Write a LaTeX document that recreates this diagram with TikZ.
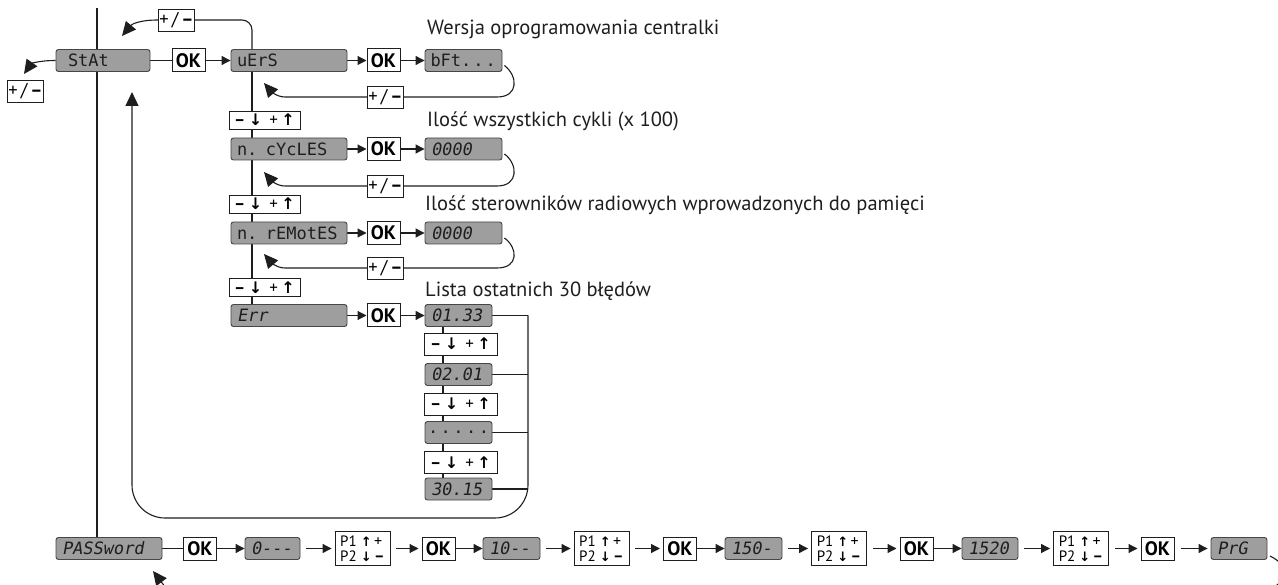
\documentclass[tikz,border=0pt]{standalone}
\usepackage{fontspec}
\setmainfont{PT Sans}
\newfontfamily\arwfont{DejaVu Sans}
\newfontfamily\segupfont{DejaVu Sans Mono}
\newfontfamily\segitfont{DejaVu Sans Mono}[FakeSlant=0.18]
\usetikzlibrary{arrows.meta,backgrounds}
\definecolor{lcd}{RGB}{158,158,158}
\definecolor{lcdline}{RGB}{70,70,70}
\definecolor{ink}{RGB}{30,30,30}
\newcommand\dup[1]{\mbox{\segupfont #1}}
\newcommand\dit[1]{\mbox{\segitfont #1}}
\newcommand\pmtxt{+\,/\,\textbf{–}}
\newcommand\udarw[1]{{\arwfont\bfseries\fontsize{16}{16}\selectfont #1}}
\newcommand\udtxt{\textbf{–}\hspace{3.5pt}\udarw{↓}\hspace{7pt}+\hspace{3.5pt}\udarw{↑}}
\newcommand\parw[1]{{\arwfont\bfseries\fontsize{13}{15.5}\selectfont #1}}
\newcommand\ptxt{P1\hspace{4pt}\parw{↑}\hspace{2.5pt}{\fontsize{16}{15.5}\selectfont +}\\P2\hspace{4pt}\parw{↓}\hspace{2.5pt}{\fontsize{16}{15.5}\selectfont\textbf{–}}}
\tikzset{
 conn/.style={draw=ink,line width=1.1pt},
 tip/.style={-{Triangle[length=9pt,width=9pt]}},
 bigtip/.style={-{Triangle[length=14pt,width=13pt]}},
 disp/.style={draw=lcdline,fill=lcd,line width=0.9pt,rounded corners=2.5pt,minimum height=22pt,inner xsep=6pt,inner ysep=0pt,text width=#1,align=left,text=ink,font=\fontsize{17}{18}\selectfont},
 okbox/.style={draw=ink,fill=white,line width=1pt,minimum width=33pt,minimum height=23pt,inner sep=0pt,font=\fontsize{19.5}{20}\selectfont\bfseries},
 pmbox/.style={draw=ink,fill=white,line width=0.9pt,minimum width=36pt,minimum height=22pt,inner sep=0pt,font=\fontsize{18.5}{18}\selectfont},
 udbox/.style={draw=ink,fill=white,line width=0.9pt,minimum width=71pt,minimum height=18pt,inner sep=0pt,font=\fontsize{17}{17}\selectfont},
 udboxb/.style={udbox,minimum width=73pt,minimum height=22pt},
 pbox/.style={draw=ink,fill=white,line width=0.9pt,minimum width=55pt,minimum height=34pt,inner xsep=3pt,inner ysep=0pt,align=left,font=\fontsize{15}{15.5}\selectfont},
 lbl/.style={anchor=base west,inner sep=0pt,text=ink,font=\fontsize{20.5}{22}\selectfont},
 gapped/.style={shorten <=6pt,shorten >=3pt},
}
\begin{document}
\begin{tikzpicture}[x=1pt,y=-1pt]
\useasboundingbox (0,0) rectangle (1278,585);
\clip (0,0) rectangle (1278,585);
% coordinates
\coordinate (topA) at (97,8);
\coordinate (colB) at (252,0);
\coordinate (colE) at (443,0);
\coordinate (bus) at (528,0);
\coordinate (ret) at (132,0);
\coordinate (bot) at (0,518);
\coordinate (retTip) at (132,92);
\coordinate (topTip) at (122,36);
\coordinate (statTip) at (24,74);
% top row
\node[disp=82pt] (stat) at (103,60.5) {\hspace{6pt}\dup{StAt}};
\node[okbox] (ok1) at (188.5,60.5) {OK};
\node[disp=104pt] (vers) at (289,60.5) {\dup{uErS}};
\node[okbox] (ok2) at (383.5,60.5) {OK};
\node[disp=66pt,inner xsep=5.5pt] (bft) at (463.5,60.5) {\dup{bFt.\hspace{2pt}.\hspace{2pt}.}};
\node[pmbox] (tpm) at (176.5,20) {\pmtxt};
\node[pmbox] (lpm) at (25.5,91) {\pmtxt};
\node[pmbox] (pm1) at (385.5,97) {\pmtxt};
\node[udbox] (ud1) at (264.5,120) {\udtxt};
% cycles
\node[disp=104pt] (cyc) at (289,149) {\dup{n. cYcLES}};
\node[okbox] (ok3) at (383.5,149) {OK};
\node[disp=65pt] (c0) at (463.5,149) {\dit{0000}};
\node[pmbox] (pm2) at (385.5,186) {\pmtxt};
\node[udbox] (ud2) at (264.5,204) {\udtxt};
% remotes
\node[disp=104pt] (rem) at (289,233) {\dup{n. rEMotES}};
\node[okbox] (ok4) at (383.5,233) {OK};
\node[disp=65pt] (r0) at (463.5,233) {\dit{0000}};
\node[pmbox] (pm3) at (385.5,268) {\pmtxt};
\node[udbox] (ud3) at (264.5,287.5) {\udtxt};
% errors
\node[disp=104pt] (err) at (289,315.5) {\dit{Err}};
\node[okbox] (ok5) at (383.5,315.5) {OK};
\node[disp=55pt] (e1) at (458.5,315.5) {\dit{01.33}};
\node[udboxb] (ud4) at (460.5,344) {\udtxt};
\node[disp=55pt] (e2) at (458.5,374.5) {\dit{02.01}};
\node[udboxb] (ud5) at (460.5,404) {\udtxt};
\node[disp=55pt] (e3) at (458.5,432.5) {\dup{\hspace{-3pt}.\hspace{2.5pt}.\hspace{2.5pt}.\hspace{2.5pt}.\hspace{2.5pt}.}};
\node[udboxb] (ud6) at (460.5,462.5) {\udtxt};
\node[disp=55pt] (e4) at (458.5,489) {\dit{30.15}};
% labels
\node[lbl] (l1) at (427,35) {Wersja oprogramowania centralki};
\node[lbl] (l2) at (427,127) {Ilość wszystkich cykli (x 100)};
\node[lbl] (l3) at (425,211) {Ilość sterowników radiowych wprowadzonych do pamięci};
\node[lbl] (l4) at (425,297) {Lista ostatnich 30 błędów};
% bottom row
\node[disp=94pt] (pass) at (109,548.5) {\dit{PASSword}};
\node[okbox] (oka) at (200,548.5) {OK};
\node[disp=43pt] (d0) at (272.5,548.5) {\dit{0---}};
\node[pbox] (pa) at (362.5,548.5) {\ptxt};
\node[okbox] (okb) at (438.5,548.5) {OK};
\node[disp=45pt] (d1) at (511.5,548.5) {\dit{10--}};
\node[pbox] (pb) at (601.5,548.5) {\ptxt};
\node[okbox] (okc) at (680,548.5) {OK};
\node[disp=45pt] (d2) at (753.5,548.5) {\dit{150-}};
\node[pbox] (pc) at (839,548.5) {\ptxt};
\node[okbox] (okd) at (916.5,548.5) {OK};
\node[disp=44pt] (d3) at (990,548.5) {\dit{1520}};
\node[pbox] (pd) at (1081,548.5) {\ptxt};
\node[okbox] (oke) at (1157.5,548.5) {OK};
\node[disp=44pt] (d4) at (1239,548.5) {\dit{PrG}};
% fragments leaving the frame
\draw[conn] (1270,556) .. controls (1290,566) and (1290,580) .. (1266,592);
\draw[conn,bigtip] (172,596) -- (153,571);
\begin{scope}[on background layer]
\draw[conn] (topA) -- (topA |- pass.north);
\draw[conn] (vers.south -| colB) -- (err.north -| colB);
\draw[conn] (e1.south -| colE) -- (e4.north -| colE);
\draw[conn] (stat) -- (ok1);
\draw[conn,tip] (ok1) -- (vers);
\draw[conn,tip] (vers) -- (ok2);
\draw[conn,tip] (ok2) -- (bft);
\draw[conn,tip] (cyc) -- (ok3);
\draw[conn,tip] (ok3) -- (c0);
\draw[conn,tip] (rem) -- (ok4);
\draw[conn,tip] (ok4) -- (r0);
\draw[conn,tip] (err) -- (ok5);
\draw[conn,tip] (ok5) -- (e1);
\draw[conn,rounded corners=10pt] (vers.north -| colB) -- (colB |- tpm) -- (tpm.east);
\draw[conn,bigtip] (tpm.west) .. controls (140,20) and (132,24) .. (topTip);
\draw[conn,bigtip] (stat.west) .. controls (38,60.5) and (31,64) .. (statTip);
\draw[conn,bigtip] ([shift={(2,5)}]bft.east) .. controls (518,76) and (519,97) .. (497,97) -- (285,97) .. controls (276,97) and (270,90) .. (264,83);
\draw[conn,bigtip] ([shift={(2,5)}]c0.east) .. controls (518,164) and (519,186) .. (497,186) -- (285,186) .. controls (276,186) and (270,179) .. (264,172);
\draw[conn,bigtip] ([shift={(2,5)}]r0.east) .. controls (518,248) and (519,268) .. (497,268) -- (285,268) .. controls (276,268) and (270,261) .. (264,254);
\draw[conn] (e1) -- (e1 -| bus);
\draw[conn] (e2) -- (e2 -| bus);
\draw[conn] (e3) -- (e3 -| bus);
\draw[conn] (e4) -- (e4 -| bus);
\draw[conn,bigtip,rounded corners=33pt] (e1 -| bus) -- (bus |- bot) -- (ret |- bot) -- (retTip);
\draw[conn] (pass) -- (oka);
\draw[conn,tip] (oka) -- (d0);
\draw[conn,tip,gapped] (d0) -- (pa);
\draw[conn,tip,gapped] (pa) -- (okb);
\draw[conn,tip] (okb) -- (d1);
\draw[conn,tip,gapped] (d1) -- (pb);
\draw[conn,tip,gapped] (pb) -- (okc);
\draw[conn,tip] (okc) -- (d2);
\draw[conn,tip,gapped] (d2) -- (pc);
\draw[conn,tip,gapped] (pc) -- (okd);
\draw[conn,tip] (okd) -- (d3);
\draw[conn,tip,gapped] (d3) -- (pd);
\draw[conn,tip,gapped] (pd) -- (oke);
\draw[conn,tip,gapped] (oke) -- (d4);
\end{scope}
\end{tikzpicture}
\end{document}
